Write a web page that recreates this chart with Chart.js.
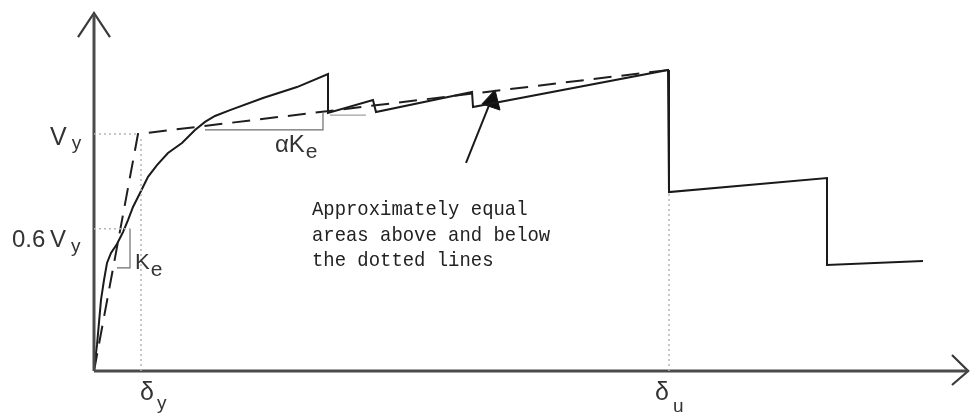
<!DOCTYPE html>
<html>
<head>
<meta charset="utf-8">
<script src="https://cdn.jsdelivr.net/npm/chart.js@4/dist/chart.umd.min.js"></script>
<style>
  html, body { margin: 0; padding: 0; background: #ffffff; }
  canvas { display: block; }
</style>
</head>
<body>
<canvas id="pushover" width="970" height="415"></canvas>
<script>
// Displacement in units of the yield displacement, shear in units of the yield shear.
const pushoverDisp  = [0, 0.064, 0.149, 0.213, 0.277, 0.362, 0.489, 0.617, 0.723, 0.830, 0.979, 1.149, 1.340, 1.574, 1.872, 2.149, 2.362, 2.574, 2.894, 3.596, 4.319, 4.979, 4.979, 5.936, 6.000, 8.043, 8.064, 12.213, 12.234, 15.596, 15.596, 17.638];
const pushoverShear = [0.01, 0.110, 0.300, 0.384, 0.456, 0.498, 0.536, 0.586, 0.637, 0.692, 0.751, 0.819, 0.869, 0.920, 0.962, 1.017, 1.051, 1.076, 1.101, 1.152, 1.198, 1.253, 1.089, 1.143, 1.093, 1.177, 1.114, 1.270, 0.755, 0.814, 0.447, 0.464];

// Idealised bilinear curve
const bilinearDisp  = [0, 0.936, 12.213];
const bilinearShear = [0, 1.0, 1.270];

// Reference levels
const yieldShear   = 1.0;
const elasticRatio = 0.6;
const yieldDisp    = 1.0;
const ultimateDisp = 12.234;

// Slope indicators
const keDisp      = [0.489, 0.766, 0.766];
const keShear     = [0.435, 0.435, 0.6];
const alphaDisp   = [2.362, 4.872, 4.872];
const alphaShear  = [1.017, 1.017, 1.093];
const stepDisp    = [5.021, 5.787];
const stepShear   = [1.080, 1.080];

// Pointer to the post-yield branch
const pointerDisp  = [7.915, 8.426];
const pointerShear = [0.878, 1.131];
const headDisp     = [8.532, 8.255, 8.638, 8.532];
const headShear    = [1.186, 1.127, 1.101, 1.186];

// Axes with arrowheads
const axisYDisp  = [0, 0];
const axisYShear = [0, 1.506];
const axisYHeadDisp  = [-0.340, 0, 0.340];
const axisYHeadShear = [1.409, 1.511, 1.409];
const axisXDisp  = [0, 18.60];
const axisXShear = [0, 0];
const axisXHeadDisp  = [18.255, 18.60, 18.255];
const axisXHeadShear = [0.0675, 0, -0.059];

const noteLines = ["Approximately equal", "areas above and below", "the dotted lines"];

function pts(xs, ys) { return xs.map((x, i) => ({ x: x, y: ys[i] })); }

function line(data, color, width, extra) {
  return Object.assign({
    data: data, showLine: true, borderColor: color, borderWidth: width,
    pointRadius: 0, fill: false, tension: 0, clip: false
  }, extra || {});
}

const dotted = { borderDash: [2, 3] };
const DOT = '#b5b5b5';

const datasets = [
  line(pts([0, bilinearDisp[1]], [yieldShear, yieldShear]), DOT, 1.5, dotted),
  line(pts([0, keDisp[1]], [elasticRatio, elasticRatio]), DOT, 1.5, dotted),
  line(pts([yieldDisp, yieldDisp], [0, 0.98]), DOT, 1.5, dotted),
  line(pts([ultimateDisp, ultimateDisp], [0, pushoverShear[28]]), DOT, 1.5, dotted),
  line(pts(keDisp, keShear), '#6e6e6e', 1.2),
  line(pts(alphaDisp, alphaShear), '#6e6e6e', 1.2),
  line(pts(stepDisp, stepShear), '#a0a0a0', 1.2),
  line(pts(axisYDisp, axisYShear), '#4a4a4a', 3),
  line(pts(axisYHeadDisp, axisYHeadShear), '#3a3a3a', 2.2),
  line(pts(axisXDisp, axisXShear), '#4a4a4a', 3),
  line(pts(axisXHeadDisp, axisXHeadShear), '#3a3a3a', 2.2),
  line(pts(bilinearDisp, bilinearShear), '#1e1e1e', 2, { borderDash: [18, 10] }),
  line(pts(pushoverDisp, pushoverShear), '#1a1a1a', 2),
  line(pts(pointerDisp, pointerShear), '#1a1a1a', 2),
  line(pts(headDisp, headShear), '#111111', 1, { fill: 'shape', backgroundColor: '#111111' })
];

const annotations = {
  id: 'annotations',
  afterDatasetsDraw(chart) {
    const ctx = chart.ctx;
    const xs = chart.scales.x, ys = chart.scales.y;
    const px = v => xs.getPixelForValue(v);
    const py = v => ys.getPixelForValue(v);
    ctx.save();
    ctx.fillStyle = '#333333';
    ctx.textBaseline = 'alphabetic';
    ctx.textAlign = 'left';

    function sub(main, small, x, base, mainSize, subSize, drop, gap) {
      ctx.font = mainSize + 'px "Liberation Sans", Arial, sans-serif';
      ctx.fillText(main, x, base);
      const w = ctx.measureText(main).width;
      ctx.font = subSize + 'px "Liberation Sans", Arial, sans-serif';
      ctx.fillText(small, x + w + gap, base + drop);
    }

    // Shear levels on the vertical axis
    sub('V', 'y', px(0) - 44, py(yieldShear) + 11, 25, 19, 4, 5);
    ctx.font = '24px "Liberation Sans", Arial, sans-serif';
    ctx.fillText('0.6', px(0) - 82, py(elasticRatio) + 18);
    sub('V', 'y', px(0) - 44, py(elasticRatio) + 18, 24, 19, 5, 5);

    // Displacement levels under the horizontal axis
    sub('\u03B4', 'y', px(yieldDisp) - 1, py(0) + 29, 25, 19, 9, 3);
    sub('\u03B4', 'u', px(ultimateDisp) - 14, py(0) + 29, 25, 19, 12, 4);

    // Stiffness labels
    sub('K', 'e', px(keDisp[1]) + 5, py(keShear[0]) + 1, 22, 21, 7, 1);
    sub('\u03B1K', 'e', px(alphaDisp[1]) - 48, py(alphaShear[0]) + 22, 24, 21, 6, 1);

    // Note, set in a narrow typewriter face
    ctx.fillStyle = '#222222';
    ctx.font = '21px "Liberation Mono", "DejaVu Sans Mono", monospace';
    ctx.translate(312, 0);
    ctx.scale(0.9, 1);
    noteLines.forEach((t, i) => ctx.fillText(t, 0, 215 + i * 25.5));
    ctx.restore();
  }
};

new Chart(document.getElementById('pushover'), {
  type: 'scatter',
  data: { datasets: datasets },
  options: {
    responsive: false,
    animation: false,
    devicePixelRatio: 1,
    layout: { padding: 0 },
    plugins: { legend: { display: false }, tooltip: { enabled: false } },
    scales: {
      x: { type: 'linear', min: -2, max: 18.6383, display: false },
      y: { type: 'linear', min: -0.18565, max: 1.5654, display: false }
    }
  },
  plugins: [annotations]
});
</script>
</body>
</html>
